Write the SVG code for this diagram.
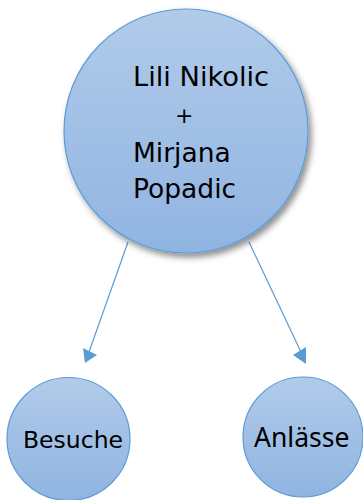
<svg xmlns="http://www.w3.org/2000/svg" width="363" height="500" viewBox="0 0 363 500">
<style>
.node{fill:url(#g);stroke:#5b9bd5;stroke-width:1.2}
.t{font-family:"DejaVu Sans",sans-serif;fill:#000}
.c{stroke:#5b9bd5;stroke-width:1.2;fill:none}
.h{fill:#5b9bd5}
</style>
<defs>
<linearGradient id="g" x1="0" y1="0" x2="0" y2="1">
<stop offset="0" stop-color="#b1cbea"/>
<stop offset="1" stop-color="#90b4e1"/>
</linearGradient>
<filter id="sh" x="-20%" y="-20%" width="140%" height="140%">
<feDropShadow dx="3" dy="4" stdDeviation="3" flood-color="#000" flood-opacity="0.45"/>
</filter>
</defs>
<g id="connectors">
<line class="c" x1="128" y1="242" x2="89" y2="352"/>
<polygon class="h" points="83,348 97,355 85,363"/>
<line class="c" x1="249" y1="242" x2="301" y2="352"/>
<polygon class="h" points="293,355 306,347 306,364"/>
</g>
<g id="main">
<circle class="node" cx="186" cy="131" r="122" filter="url(#sh)"/>
<text class="t" font-size="26.5" x="133" y="86" textLength="136" lengthAdjust="spacingAndGlyphs">Lili Nikolic</text>
<text class="t" font-size="22" x="175" y="123">+</text>
<text class="t" font-size="26.5" x="133" y="162">Mirjana</text>
<text class="t" font-size="26.5" x="133" y="198">Popadic</text>
</g>
<g id="besuche">
<circle class="node" cx="68.5" cy="439" r="61.5"/>
<text class="t" font-size="23.5" x="23" y="448">Besuche</text>
</g>
<g id="anlaesse">
<circle class="node" cx="303" cy="437" r="60"/>
<text font-family="'Noto Sans',sans-serif" font-size="26.5" x="254" y="447">Anlässe</text>
</g>
</svg>
